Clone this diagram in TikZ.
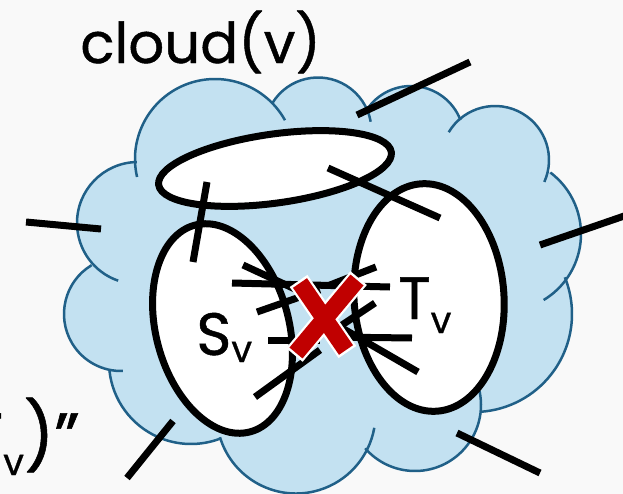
\documentclass[tikz,border=0pt]{standalone}
\usepackage{fontspec}
\setmainfont{Poppins}
\definecolor{cloudFill}{HTML}{C3E1F1}
\definecolor{cloudEdge}{HTML}{206088}
\definecolor{cutRed}{HTML}{C00000}
\definecolor{pageBg}{HTML}{F9F9F9}
\usetikzlibrary{shapes.geometric}
\newcommand{\subv}[1]{\raisebox{#1}{\fontsize{21}{21}\selectfont\addfontfeature{FakeBold=0.8}v}}

\begin{document}
\begin{tikzpicture}[
  x=0.02cm, y=-0.02cm,
  puff/.style={draw=cloudEdge, line width=0.05cm},
  part/.style={ellipse, draw, line width=0.14cm, fill=white, inner sep=0pt},
  edge/.style={line width=0.14cm},
  cutback/.style={white, line width=0.43cm, shorten <=-0.05cm, shorten >=-0.05cm},
  cut/.style={cutRed, line width=0.34cm},
  lbl/.style={inner sep=0pt, font=\fontsize{32}{38}\selectfont\addfontfeature{FakeBold=0.8}},
  setlbl/.style={lbl, anchor=base west, font=\fontsize{34}{40}\selectfont\addfontfeature{FakeBold=0.8}},
]
  \useasboundingbox (0,0) rectangle (623,494);
  \fill[pageBg] (0,0) rectangle (623,494);
  \clip (0,0) rectangle (623,494);

  % cloud: puffs filled, then their outer arcs
  \fill[cloudFill] (320,290) ellipse [x radius=210, y radius=150]
    (215,159) circle [radius=80] (318,131) circle [radius=53.5]
    (411,139) circle [radius=53] (495,160) circle [radius=54]
    (504,234) circle [radius=77] (474,314) circle [radius=98]
    (415,405) circle [radius=66] (296,414) circle [radius=79.5]
    (191,362) circle [radius=82] (121,314) circle [radius=57]
    (138,223) circle [radius=61];
  \draw[puff] (215,159) ++(167:80) arc [start angle=167, end angle=331, radius=80];
  \draw[puff] (318,131) ++(212:53.5) arc [start angle=212, end angle=350, radius=53.5];
  \draw[puff] (411,139) ++(216:53) arc [start angle=216, end angle=339, radius=53];
  \draw[puff] (495,160) ++(211:54) arc [start angle=211, end angle=384, radius=54];
  \draw[puff] (504,234) ++(307:77) arc [start angle=307, end angle=419, radius=77];
  \draw[puff] (474,314) ++(-22:98) arc [start angle=-22, end angle=86, radius=98];
  \draw[puff] (415,405) ++(139:66) arc [start angle=139, end angle=-12, radius=66];
  \draw[puff] (296,414) ++(163:79.5) arc [start angle=163, end angle=10, radius=79.5];
  \draw[puff] (191,362) ++(174:82) arc [start angle=174, end angle=69, radius=82];
  \draw[puff] (121,314) ++(239:57) arc [start angle=239, end angle=88, radius=57];
  \draw[puff] (138,223) ++(269:61) arc [start angle=269, end angle=109, radius=61];

  \node[part, rotate=8, minimum width=4.7cm, minimum height=1.38cm] (top) at (275,168.5) {};
  \node[part, rotate=15, minimum width=2.66cm, minimum height=4.28cm] (S) at (222.5,328.5) {};
  \node[part, rotate=4, minimum width=3.0cm, minimum height=4.56cm] (T) at (429,297.5) {};

  \draw[edge] (357,115) -- (470,62);
  \draw[edge] (26,222) -- (101,229);
  \draw[edge] (540,245) -- (630,214);
  \draw[edge] (127,478) -- (173,421);
  \draw[edge] (457,433) -- (540,473);
  \draw[edge] (207,182) -- (193,262);
  \draw[edge] (328,168) -- (440,218);

  \draw[edge] (232,283) -- (390,287);
  \draw[edge] (243,265) -- (310,296);
  \draw[edge] (257,312) -- (320,290);
  \draw[edge] (268,340) -- (320,340);
  \draw[edge] (255,397) -- (320,350);
  \draw[edge] (376,267) -- (330,285);
  \draw[edge] (375,303) -- (330,333);
  \draw[edge] (412,338) -- (330,337);
  \draw[edge] (418,372) -- (335,324);

  \draw[cutback] (300,283) -- (346,350);
  \draw[cutback] (357,280) -- (296,353);
  \draw[cut] (300,283) -- (346,350);
  \draw[cut] (357,280) -- (296,353);

  \node[lbl, anchor=base west] (title) at (80,63) {cloud(v)};
  \node[setlbl] (slabel) at (196,355) {S\subv{-0.14cm}};
  \node[setlbl] (tlabel) at (398,319) {T\subv{-0.28cm}};
  \node[lbl, anchor=base east, font=\fontsize{38}{44}\selectfont\addfontfeature{FakeBold=0.8}] (cutlabel) at (80,460) {T\subv{-0.3cm})"};
\end{tikzpicture}
\end{document}
